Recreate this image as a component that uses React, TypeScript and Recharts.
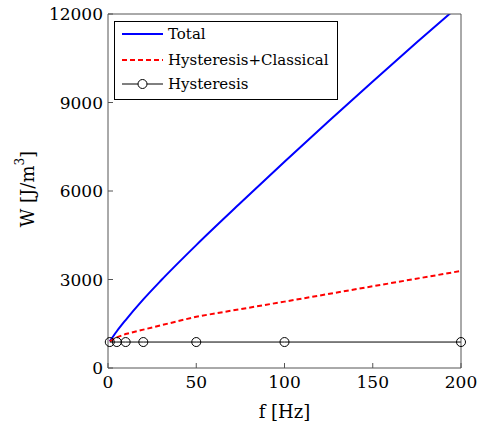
import { LineChart, Line, XAxis, YAxis } from "recharts";

const totalFreq = [1, 5, 10, 20, 30, 50, 75, 100, 125, 150, 175, 200];
const totalW = [905, 1245, 1625, 2325, 2965, 4165, 5590, 6990, 8365, 9715, 11040, 12340];

// measured frequencies (markers)
const markFreq = [1, 5, 10, 20, 50, 100, 200];
const classicalW = [900, 1040, 1150, 1300, 1740, 2250, 3290];
const hystW = [880, 880, 880, 880, 880, 880, 880];

const xTicks = [0, 50, 100, 150, 200];
const yTicks = [0, 3000, 6000, 9000, 12000];

const seriesNames = ["Total", "Hysteresis+Classical", "Hysteresis"];

const FONT = "DejaVu Serif";
const AXIS = "#555";

const totalData = totalFreq.map((f, i) => ({ f, w: totalW[i] }));
const markData = markFreq.map((f, i) => ({ f, cls: classicalW[i], hyst: hystW[i] }));

const LegendBox = () => (
  <svg width={224} height={79} style={{ position: "absolute", left: 114, top: 21, display: "block" }}>
    <rect x={0.5} y={0.5} width={223} height={78} fill="#fff" stroke="#000" strokeWidth={1} />
    <line x1={8} x2={49} y1={13} y2={13} stroke="#0000ff" strokeWidth={2} />
    <line x1={8} x2={49} y1={39} y2={39} stroke="#ff0000" strokeWidth={2} strokeDasharray="5 3" />
    <line x1={8} x2={49} y1={63} y2={63} stroke="#000" strokeWidth={1} />
    <circle cx={28.5} cy={63} r={4.5} fill="#fff" stroke="#000" strokeWidth={1} />
    {seriesNames.map((n, i) => (
      <text key={n} x={54} y={[13, 39, 63][i]} dy="0.35em" style={{ fontSize: 15, fontFamily: FONT }} fill="#000">
        {n}
      </text>
    ))}
  </svg>
);

const YTitle = () => (
  <text x={27} y={189} transform="rotate(-90 27 189)" textAnchor="middle" dominantBaseline="central"
    style={{ fontSize: 18, fontFamily: FONT }} fill="#000">
    W [J/m<tspan dy={-7} style={{ fontSize: 12 }}>3</tspan><tspan dy={7}>]</tspan>
  </text>
);

export default function App() {
  const tickStyle = { fill: "#000", fontSize: 17, fontFamily: FONT };
  return (
    <div style={{ position: "fixed", left: 0, top: 0, width: 482, height: 424, background: "#fff", fontFamily: FONT }}>
      <LineChart width={482} height={424} margin={{ top: 13, right: 20, bottom: 0, left: 0 }}>
        <XAxis
          xAxisId="b"
          dataKey="f"
          type="number"
          domain={[0, 200]}
          ticks={xTicks}
          height={56}
          tickSize={-5}
          tickMargin={13}
          stroke={AXIS}
          tick={tickStyle}
          label={{ value: "f [Hz]", position: "insideBottom", offset: 6, style: { fill: "#000", fontSize: 18, fontFamily: FONT } }}
        />
        <XAxis
          xAxisId="t"
          orientation="top"
          dataKey="f"
          type="number"
          domain={[0, 200]}
          ticks={xTicks}
          height={1}
          tickSize={-5}
          stroke={AXIS}
          tickFormatter={() => ""}
        />
        <YAxis
          yAxisId="l"
          type="number"
          domain={[0, 12000]}
          ticks={yTicks}
          allowDataOverflow
          width={108}
          tickSize={-5}
          tickMargin={10}
          stroke={AXIS}
          tick={tickStyle}
          label={{ content: () => <YTitle /> }}
        />
        <YAxis
          yAxisId="r"
          orientation="right"
          type="number"
          domain={[0, 12000]}
          ticks={yTicks}
          width={1}
          tickSize={-5}
          stroke={AXIS}
          tickFormatter={() => ""}
        />
        <Line
          xAxisId="b"
          yAxisId="l"
          data={totalData}
          dataKey="w"
          type="monotone"
          stroke="#0000ff"
          strokeWidth={2}
          dot={false}
          isAnimationActive={false}
        />
        <Line
          xAxisId="b"
          yAxisId="l"
          data={markData}
          dataKey="cls"
          type="linear"
          stroke="#ff0000"
          strokeWidth={2}
          strokeDasharray="5 3"
          dot={false}
          isAnimationActive={false}
        />
        <Line
          xAxisId="b"
          yAxisId="l"
          data={markData}
          dataKey="hyst"
          type="linear"
          stroke="#000"
          strokeWidth={1}
          dot={{ r: 4.5, fill: "none", stroke: "#000", strokeWidth: 1 }}
          isAnimationActive={false}
        />
      </LineChart>
      <LegendBox />
    </div>
  );
}
